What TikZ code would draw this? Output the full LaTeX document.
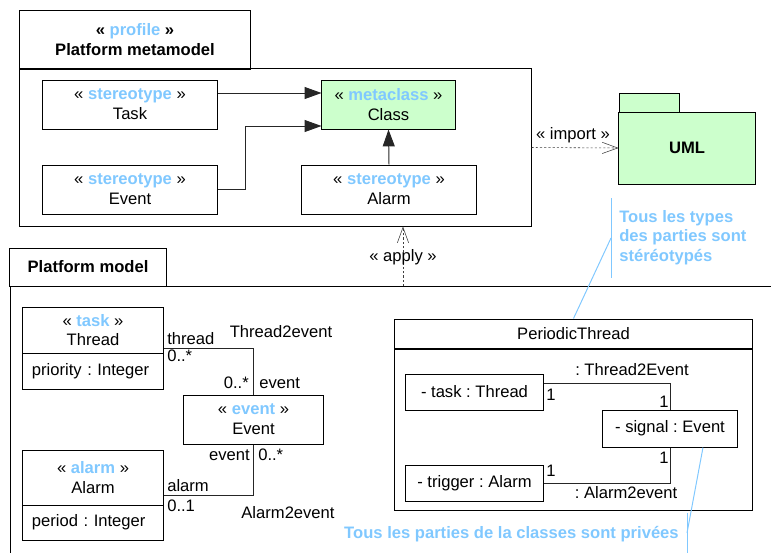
\documentclass[tikz,border=0pt]{standalone}
\usepackage{fontspec}
\setmainfont{Liberation Sans}
\usetikzlibrary{arrows.meta,calc}
\frenchspacing

\definecolor{noteblue}{RGB}{128,200,255}
\definecolor{umlgreen}{RGB}{204,255,204}
\newcommand{\umlfont}{\fontsize{11.8}{14}\selectfont}
\newcommand{\stereo}[1]{« \textbf{\textcolor{noteblue}{#1}} »}

\tikzset{
  umlbox/.style={draw, line width=0.7pt, inner sep=0pt, align=center},
  greenbox/.style={umlbox, fill=umlgreen},
  attrbox/.style={umlbox, align=left, text width=3.05cm},
  assoc/.style={draw=black!85, line width=0.7pt},
  generalize/.style={assoc, -{Triangle[length=12pt,width=8.5pt]}},
  depend/.style={draw=black!75, line width=0.4pt, dash pattern=on 1.5pt off 1.5pt,
    -{Straight Barb[length=11pt,width=8pt]}},
  notelink/.style={draw=noteblue, line width=0.7pt},
  notetext/.style={text=noteblue, font=\umlfont\bfseries, align=left, inner sep=0pt},
  lbl/.style={inner sep=0pt},
}

\begin{document}
\begin{tikzpicture}[x=0.025cm, y=-0.025cm, font=\umlfont]
\useasboundingbox (0,0) rectangle (771,553);

% Profile: Platform metamodel
\node[umlbox, minimum width=5.75cm, minimum height=1.475cm, font=\umlfont\bfseries] (proftab) at (135,39.5) {\stereo{profile}\\Platform metamodel};
\node[umlbox, minimum width=12.775cm, minimum height=3.925cm] (profbody) at (275.5,147.5) {};

\node[umlbox, minimum width=4.35cm, minimum height=1.225cm] (task) at (130,104.5) {\stereo{stereotype}\\Task};
\node[umlbox, minimum width=4.35cm, minimum height=1.225cm] (eventst) at (130,189.5) {\stereo{stereotype}\\Event};
\node[greenbox, minimum width=3.325cm, minimum height=1.225cm] (class) at (388.5,104.5) {\stereo{metaclass}\\Class};
\node[umlbox, minimum width=4.35cm, minimum height=1.225cm] (alarmst) at (389,189.5) {\stereo{stereotype}\\Alarm};

\draw[generalize] ($(task.east)+(0,-11.5)$) -- ($(class.west)+(0,-11.5)$);
\draw[generalize] (eventst.east) -- ++(28,0) |- ($(class.west)+(0,21.5)$);
\draw[generalize] (alarmst.north) -- (class.south);

% UML package
\node[greenbox, minimum width=1.5cm, minimum height=0.475cm] (umltab) at (649,102.5) {};
\node[greenbox, minimum width=3.4cm, minimum height=1.8cm, font=\umlfont\bfseries] (umlbody) at (687,148) {UML};

\draw[depend] (profbody.east) -- (umlbody.west);
\node[lbl] (importlbl) at (573,135) {« import »};

% Platform model
\draw[line width=0.7pt] (10,553) -- (10,286) -- (771,286);
\node[umlbox, minimum width=3.9cm, minimum height=0.95cm, font=\umlfont\bfseries] (pmtab) at (88,267) {Platform model};

\coordinate (applyfoot) at (403,286);
\draw[depend] (applyfoot) -- (applyfoot |- profbody.south);
\node[lbl] (applylbl) at (403,257) {« apply »};

\node[umlbox, minimum width=3.5cm, minimum height=1.15cm] (threadtop) at (93,330) {\stereo{task}\\Thread};
\node[attrbox, minimum width=3.5cm, minimum height=0.9cm] (threadattr) at (93,371) {priority : Integer};
\node[umlbox, minimum width=3.5cm, minimum height=1.375cm] (alarmtop) at (93,477.5) {\stereo{alarm}\\Alarm};
\node[attrbox, minimum width=3.5cm, minimum height=0.875cm] (alarmattr) at (93,522.5) {period : Integer};
\node[umlbox, minimum width=3.475cm, minimum height=1.225cm] (event) at (253.5,419.5) {\stereo{event}\\Event};

\draw[assoc] ($(threadtop.east)+(0,18)$) -| (event.north);
\draw[assoc] (event.south) |- ($(alarmtop.east)+(0,17.5)$);

\node[lbl, anchor=west] at (167,339) {thread};
\node[lbl, anchor=west] at (167,356) {0..*};
\node[lbl] at (281,332) {Thread2event};
\node[lbl, anchor=east] at (249,383) {0..*};
\node[lbl, anchor=west] at (259,383) {event};
\node[lbl, anchor=east] at (250,455) {event};
\node[lbl, anchor=west] at (258,455) {0..*};
\node[lbl, anchor=west] at (167,486) {alarm};
\node[lbl, anchor=west] at (167,506) {0..1};
\node[lbl] at (288,513) {Alarm2event};

% PeriodicThread
\node[umlbox, minimum width=8.925cm, minimum height=0.75cm] (ptname) at (573.5,334) {PeriodicThread};
\node[umlbox, minimum width=8.925cm, minimum height=4.025cm] (ptbody) at (573.5,429.5) {};

\node[umlbox, minimum width=3.425cm, minimum height=0.9cm] (ptask) at (474.5,392) {- task : Thread};
\node[umlbox, minimum width=3.425cm, minimum height=0.9cm] (ptrigger) at (474.5,483) {- trigger : Alarm};
\node[umlbox, minimum width=3.35cm, minimum height=0.925cm] (psignal) at (670,428.5) {- signal : Event};

\draw[assoc] ($(ptask.east)+(0,-9)$) -| (psignal.north);
\draw[assoc] (psignal.south) |- (ptrigger.east);

\node[lbl] at (632,370) {: Thread2Event};
\node[lbl] at (551,395) {1};
\node[lbl] at (664,402) {1};
\node[lbl] at (664,458) {1};
\node[lbl] at (551,471) {1};
\node[lbl] at (626,493) {: Alarm2event};

% Notes
\node[notetext, anchor=west] (typenote) at (619,237.5) {Tous les types\\des parties sont\\stéréotypés};
\coordinate (typebartop) at (611,198);
\coordinate (typebarbot) at (611,278);
\draw[notelink] (typebartop) -- (typebarbot);
\draw[notelink] ($(typebartop)!0.5!(typebarbot)$) -- (ptname.north);

\node[notetext, anchor=east] (privnote) at (679,534) {Tous les parties de la classes sont privées};
\coordinate (privbartop) at (687,513);
\coordinate (privbarbot) at (687,553);
\draw[notelink] (privbartop) -- (privbarbot);
\draw[notelink] ($(psignal.south)+(33,0)$) -- (687,533);
\end{tikzpicture}
\end{document}
